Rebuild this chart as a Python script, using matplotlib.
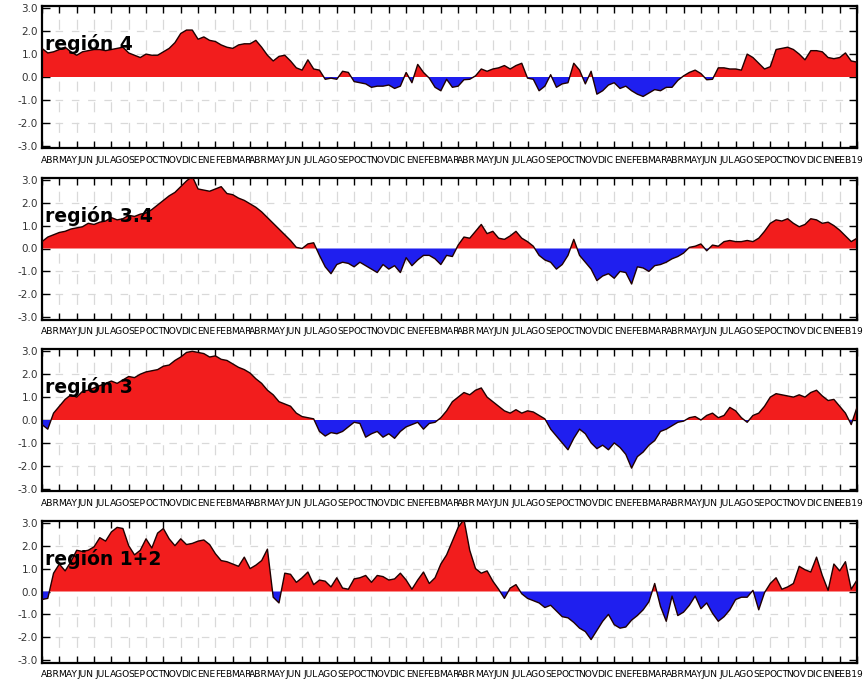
import numpy as np
import matplotlib
matplotlib.use("Agg")
import matplotlib.pyplot as plt
from matplotlib.ticker import FixedLocator, NullFormatter, FixedFormatter

# time axis: months since 1 Apr 2015, sampled every 1/3 month
n_pts = 142
t = np.arange(n_pts) / 3.0

month_names = ['ABR', 'MAY', 'JUN', 'JUL', 'AGO', 'SEP', 'OCT', 'NOV', 'DIC', 'ENE', 'FEB', 'MAR']
n_months = 47
month_labels = [month_names[i % 12] for i in range(n_months)]
month_labels[-1] = 'FEB19'

region_names = ['región 4', 'región 3.4', 'región 3', 'región 1+2']

r4 = [1.25, 1.05, 1.1, 1.2, 1.3, 1.1, 0.95, 1.1, 1.15, 1.2, 1.2, 1.15, 1.2, 1.25, 1.3, 1.05, 0.95, 0.85, 1.0, 0.95,
      0.95, 1.1, 1.25, 1.5, 1.9, 2.05, 2.05, 1.65, 1.75, 1.6, 1.55, 1.4, 1.3, 1.25, 1.4, 1.45, 1.45, 1.6, 1.3, 0.95,
      0.7, 0.9, 0.95, 0.7, 0.4, 0.3, 0.75, 0.35, 0.3, -0.1, -0.05, -0.1, 0.25, 0.2, -0.2, -0.25, -0.3, -0.45, -0.4, -0.4,
      -0.35, -0.5, -0.4, 0.2, -0.25, 0.55, 0.2, -0.05, -0.45, -0.6, -0.1, -0.45, -0.4, -0.12, -0.1, 0.05, 0.35, 0.25, 0.35, 0.4,
      0.5, 0.35, 0.5, 0.6, -0.05, -0.1, -0.6, -0.4, 0.1, -0.45, -0.3, -0.25, 0.6, 0.3, -0.3, 0.25, -0.75, -0.6, -0.35, -0.25,
      -0.5, -0.4, -0.6, -0.75, -0.85, -0.7, -0.55, -0.6, -0.45, -0.45, -0.15, 0.05, 0.2, 0.3, 0.15, -0.12, -0.1, 0.4, 0.4, 0.35,
      0.35, 0.3, 1.0, 0.85, 0.6, 0.35, 0.45, 1.2, 1.25, 1.3, 1.2, 1.0, 0.75, 1.15, 1.15, 1.1, 0.85, 0.8, 0.85, 1.05,
      0.7, 0.65]

r34 = [0.3, 0.5, 0.6, 0.7, 0.75, 0.85, 0.9, 0.95, 1.1, 1.05, 1.15, 1.2, 1.35, 1.25, 1.3, 1.45, 1.4, 1.5, 1.55, 1.7,
       1.9, 2.1, 2.3, 2.45, 2.7, 2.95, 3.15, 2.6, 2.55, 2.5, 2.6, 2.7, 2.4, 2.35, 2.2, 2.1, 1.95, 1.8, 1.6, 1.35,
       1.1, 0.85, 0.6, 0.35, 0.05, 0.0, 0.2, 0.25, -0.3, -0.8, -1.1, -0.7, -0.6, -0.65, -0.8, -0.6, -0.75, -0.9, -1.05, -0.7,
       -0.9, -0.75, -1.05, -0.4, -0.75, -0.5, -0.3, -0.3, -0.45, -0.7, -0.3, -0.35, 0.15, 0.5, 0.45, 0.75, 1.05, 0.65, 0.75, 0.45,
       0.4, 0.55, 0.75, 0.45, 0.3, 0.1, -0.3, -0.5, -0.6, -0.9, -0.7, -0.3, 0.4, -0.3, -0.6, -0.9, -1.4, -1.2, -1.1, -1.3,
       -1.0, -1.05, -1.55, -0.8, -0.85, -1.0, -0.75, -0.7, -0.6, -0.45, -0.35, -0.2, 0.05, 0.1, 0.2, -0.1, 0.15, 0.1, 0.3, 0.35,
       0.3, 0.3, 0.35, 0.3, 0.45, 0.75, 1.1, 1.25, 1.2, 1.3, 1.1, 0.95, 1.05, 1.3, 1.25, 1.1, 1.15, 1.0, 0.8, 0.55,
       0.3, 0.45]

r3 = [-0.2, -0.4, 0.3, 0.6, 0.9, 1.1, 1.0, 1.25, 1.3, 1.4, 1.5, 1.6, 1.7, 1.6, 1.75, 1.9, 1.85, 2.0, 2.1, 2.15,
      2.2, 2.35, 2.4, 2.6, 2.75, 2.95, 3.0, 2.95, 2.9, 2.75, 2.8, 2.65, 2.6, 2.45, 2.3, 2.2, 2.05, 1.8, 1.6, 1.3,
      1.1, 0.8, 0.7, 0.6, 0.3, 0.15, 0.1, 0.05, -0.5, -0.7, -0.55, -0.6, -0.5, -0.3, -0.1, -0.15, -0.75, -0.6, -0.5, -0.75,
      -0.6, -0.8, -0.5, -0.3, -0.2, -0.1, -0.4, -0.15, -0.1, 0.1, 0.4, 0.8, 1.0, 1.2, 1.1, 1.3, 1.4, 1.0, 0.8, 0.6,
      0.4, 0.3, 0.45, 0.3, 0.4, 0.35, 0.2, 0.05, -0.4, -0.7, -1.0, -1.3, -0.8, -0.4, -0.6, -1.0, -1.25, -1.1, -1.3, -1.0,
      -1.2, -1.5, -2.1, -1.6, -1.4, -1.1, -0.9, -0.5, -0.4, -0.25, -0.1, -0.05, 0.1, 0.15, 0.0, 0.2, 0.3, 0.1, 0.2, 0.55,
      0.4, 0.1, -0.1, 0.2, 0.3, 0.6, 1.0, 1.15, 1.1, 1.05, 1.0, 1.1, 1.0, 1.2, 1.3, 1.05, 0.85, 0.9, 0.6, 0.3,
      -0.2, 0.55]

r12 = [-0.35, -0.3, 0.8, 1.2, 0.9, 1.3, 1.8, 1.75, 1.8, 1.95, 2.35, 2.2, 2.6, 2.8, 2.75, 2.0, 1.6, 1.8, 2.3, 1.9,
       2.55, 2.75, 2.3, 2.0, 2.3, 2.05, 2.1, 2.2, 2.25, 2.05, 1.65, 1.35, 1.3, 1.2, 1.1, 1.5, 1.0, 1.15, 1.35, 1.85,
       -0.25, -0.5, 0.8, 0.75, 0.4, 0.6, 0.85, 0.3, 0.5, 0.45, 0.2, 0.6, 0.15, 0.1, 0.55, 0.6, 0.7, 0.4, 0.7, 0.65,
       0.5, 0.55, 0.8, 0.5, 0.1, 0.5, 0.85, 0.35, 0.6, 1.2, 1.6, 2.2, 2.8, 3.15, 1.8, 1.0, 0.8, 0.9, 0.45, 0.1,
       -0.3, 0.15, 0.3, -0.1, -0.3, -0.4, -0.5, -0.7, -0.6, -0.85, -1.1, -1.15, -1.35, -1.6, -1.75, -2.1, -1.7, -1.3, -1.0, -1.45,
       -1.6, -1.55, -1.25, -1.05, -0.8, -0.45, 0.35, -0.65, -1.3, -0.2, -1.05, -0.9, -0.6, -0.2, -0.75, -0.5, -0.95, -1.3, -1.1, -0.8,
       -0.35, -0.25, -0.25, 0.05, -0.8, -0.05, 0.35, 0.6, 0.1, 0.2, 0.35, 1.1, 0.95, 0.85, 1.5, 0.7, 0.05, 1.2, 0.9, 1.3,
       0.1, 0.5]

series = [r4, r34, r3, r12]

RED = '#f21d1d'
BLUE = '#1f1fef'
GRID = '#d9d9d9'

fig = plt.figure(figsize=(8.67, 6.82), dpi=100)
W, H = 867.0, 682.0
left_px, right_px = 42.0, 857.0
tops_px = [6.0, 177.5, 349.0, 520.5]
h_px = 142.0

for i, (name, vals) in enumerate(zip(region_names, series)):
    v = np.array(vals, dtype=float)
    top = tops_px[i]
    ax = fig.add_axes([left_px / W, 1 - (top + h_px) / H, (right_px - left_px) / W, h_px / H])
    ax.set_xlim(0, n_months)
    ax.set_ylim(-3.1, 3.1)
    ax.fill_between(t, v, 0, where=v >= 0, interpolate=True, color=RED, linewidth=0, zorder=2)
    ax.fill_between(t, v, 0, where=v <= 0, interpolate=True, color=BLUE, linewidth=0, zorder=2)
    ax.plot(t, v, color='#200000', linewidth=1.0, zorder=3)

    # light dashed grid forming small crosses
    for yv in [-2, -1, 1, 2]:
        ax.axhline(yv, color=GRID, linewidth=0.9, linestyle=(2.5, (6, 7)), zorder=1)
    for m in range(1, n_months):
        ax.axvline(m, color=GRID, linewidth=0.9, linestyle=(4, (8, 8.5)), zorder=1)

    ax.xaxis.set_major_locator(FixedLocator(np.arange(0, n_months + 1)))
    ax.xaxis.set_major_formatter(NullFormatter())
    ax.xaxis.set_minor_locator(FixedLocator(np.arange(n_months) + 0.5))
    ax.xaxis.set_minor_formatter(FixedFormatter(month_labels))
    ax.tick_params(axis='x', which='minor', length=0, labelsize=6.6, pad=5.5)
    ax.tick_params(axis='x', which='major', direction='in', length=5, width=1.0, top=True, bottom=True)
    ax.set_yticks([-3, -2, -1, 0, 1, 2, 3])
    ax.set_yticklabels(['-3.0', '-2.0', '-1.0', '0.0', '1.0', '2.0', '3.0'])
    ax.tick_params(axis='y', direction='in', length=6, width=1.0, left=True, right=True, labelsize=7.5, pad=3,
                   colors='black')
    for lab in ax.get_yticklabels():
        lab.set_color('#333333')
    for sp in ax.spines.values():
        sp.set_linewidth(1.6)
    ax.text(0.004, 0.73, name, transform=ax.transAxes, fontsize=13.5, fontweight='bold',
            ha='left', va='center', color='black', zorder=5)

fig.savefig('out.png', dpi=100)
